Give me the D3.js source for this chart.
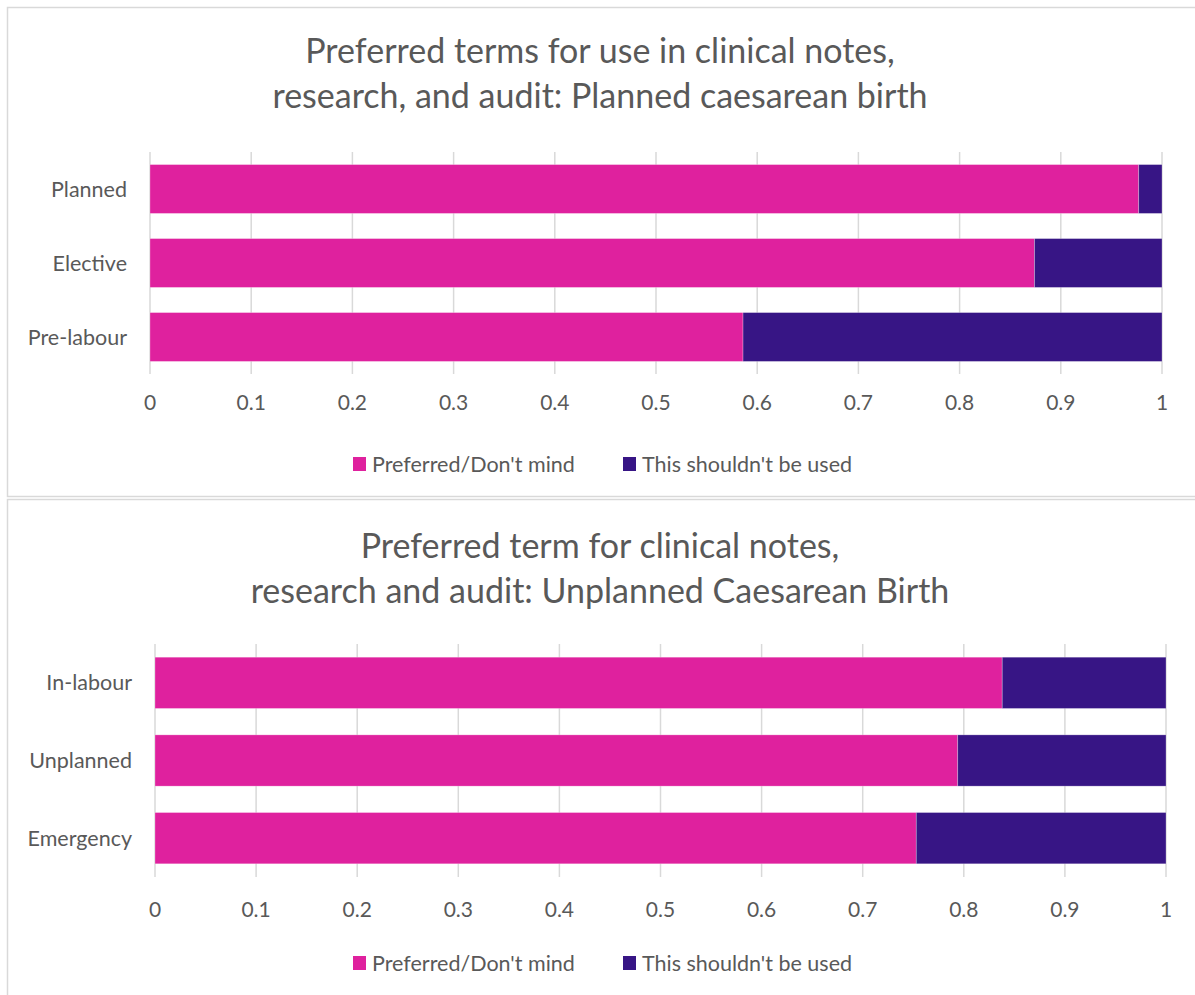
<!DOCTYPE html>
<html>
<head>
<meta charset="utf-8">
<script src="https://cdn.jsdelivr.net/npm/d3@7"></script>
<style>
  body { margin: 0; background: #fff; }
  text { font-family: Lato, "Open Sans", sans-serif; fill: #595959; }
</style>
</head>
<body>
<svg id="vis" width="1195" height="995"></svg>
<script>
// data
var seriesNames = ["Preferred/Don't mind", "This shouldn't be used"];
var seriesColours = ["#df219e", "#371585"];
var xTicks = [0, 0.1, 0.2, 0.3, 0.4, 0.5, 0.6, 0.7, 0.8, 0.9, 1];
var xTickLabels = ["0", "0.1", "0.2", "0.3", "0.4", "0.5", "0.6", "0.7", "0.8", "0.9", "1"];

var plannedTerms = ["Planned", "Elective", "Pre-labour"];
var plannedPreferred = [0.977, 0.874, 0.586];
var plannedAvoid = [0.023, 0.126, 0.414];
var plannedTitle = ["Preferred terms for use in clinical notes,", "research, and audit: Planned caesarean birth"];

var unplannedTerms = ["In-labour", "Unplanned", "Emergency"];
var unplannedPreferred = [0.838, 0.794, 0.753];
var unplannedAvoid = [0.162, 0.206, 0.247];
var unplannedTitle = ["Preferred term for clinical notes,", "research and audit: Unplanned Caesarean Birth"];

var vis = d3.select("#vis");

// panel frames
vis.append("rect").attr("x", 7.5).attr("y", 7.5).attr("width", 1200).attr("height", 489)
    .attr("fill", "none").attr("stroke", "#d9d9d9").attr("stroke-width", 1.5);
vis.append("rect").attr("x", 7.5).attr("y", 499.5).attr("width", 1200).attr("height", 600)
    .attr("fill", "none").attr("stroke", "#d9d9d9").attr("stroke-width", 1.5);

drawChart({
    terms: plannedTerms, preferred: plannedPreferred, avoid: plannedAvoid, title: plannedTitle,
    left: 150, right: 1162, top: 152, bottom: 374, titleY: 63, tickY: 403, legendY: 464, labelX: 127
});
drawChart({
    terms: unplannedTerms, preferred: unplannedPreferred, avoid: unplannedAvoid, title: unplannedTitle,
    left: 155, right: 1166, top: 644, bottom: 877, titleY: 558, tickY: 910, legendY: 963, labelX: 132
});

function drawChart(o){
    var rows = o.terms.map(function(t, i){
        return { term: t, a: o.preferred[i], b: o.avoid[i] };
    });
    var stack = d3.stack().keys(["a", "b"])(rows);

    var x = d3.scaleLinear().domain([0, 1]).range([o.left, o.right]);
    var y = d3.scaleBand().domain(o.terms).range([o.top, o.bottom]).paddingInner(0.34).paddingOuter(0.17);

    var g = vis.append("g");

    // title
    g.selectAll(".title").data(o.title).enter().append("text")
        .attr("x", 600).attr("y", function(d, i){ return o.titleY + i * 45; })
        .attr("text-anchor", "middle").attr("font-size", "34px")
        .text(function(d){ return d; });

    // gridlines
    g.selectAll(".grid").data(xTicks).enter().append("line")
        .attr("x1", function(d){ return x(d); }).attr("x2", function(d){ return x(d); })
        .attr("y1", o.top).attr("y2", o.bottom)
        .attr("stroke", "#d9d9d9").attr("stroke-width", 1.5);

    // bars
    stack.forEach(function(s, k){
        g.selectAll(".bar" + k).data(s).enter().append("rect")
            .attr("x", function(d){ return x(d[0]); })
            .attr("width", function(d){ return x(d[1]) - x(d[0]); })
            .attr("y", function(d){ return y(d.data.term); })
            .attr("height", y.bandwidth())
            .attr("fill", seriesColours[k])
            .attr("stroke", "#ffffff").attr("stroke-opacity", 0.35).attr("stroke-width", 0.75);
    });

    // category labels
    g.selectAll(".cat").data(o.terms).enter().append("text")
        .attr("x", o.labelX).attr("y", function(d){ return y(d) + y.bandwidth() / 2; })
        .attr("dy", "0.35em").attr("text-anchor", "end").attr("font-size", "21.5px")
        .text(function(d){ return d; });

    // x tick labels
    g.selectAll(".tick").data(xTicks).enter().append("text")
        .attr("x", function(d){ return x(d); }).attr("y", o.tickY)
        .attr("dy", "0.35em").attr("text-anchor", "middle").attr("font-size", "21px")
        .text(function(d, i){ return xTickLabels[i]; });

    // legend
    var legendX = [353, 623];
    seriesNames.forEach(function(name, k){
        g.append("rect").attr("x", legendX[k]).attr("y", o.legendY - 7).attr("width", 13).attr("height", 14)
            .attr("fill", seriesColours[k]);
        g.append("text").attr("x", legendX[k] + 19).attr("y", o.legendY)
            .attr("dy", "0.35em").attr("font-size", "21.5px").text(name);
    });
}
</script>
</body>
</html>
